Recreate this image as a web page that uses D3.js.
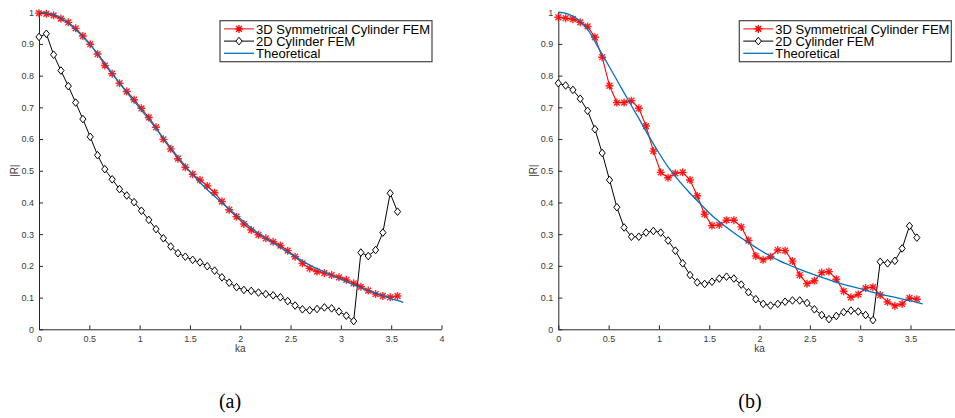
<!DOCTYPE html>
<html><head><meta charset="utf-8">
<script src="https://cdn.jsdelivr.net/npm/d3@7"></script>
<style>
html,body{margin:0;padding:0;background:#fff;}
svg{display:block;font-family:"Liberation Sans",Arial,Helvetica,sans-serif;}
</style></head>
<body>
<svg id="c" width="955" height="418"></svg>
<script>
// ---- data ----
const ka = [0, 0.073, 0.145, 0.218, 0.291, 0.364, 0.436, 0.509, 0.582, 0.654,
  0.727, 0.8, 0.872, 0.945, 1.018, 1.091, 1.163, 1.236, 1.309, 1.381,
  1.454, 1.527, 1.6, 1.672, 1.745, 1.818, 1.89, 1.963, 2.036, 2.109,
  2.181, 2.254, 2.327, 2.399, 2.472, 2.545, 2.618, 2.69, 2.763, 2.836,
  2.908, 2.981, 3.054, 3.127, 3.199, 3.272, 3.345, 3.417, 3.49, 3.563];

const a3D = [0.997, 0.995, 0.99, 0.98, 0.968, 0.949, 0.925, 0.899, 0.868, 0.832,
  0.806, 0.776, 0.750, 0.724, 0.697, 0.668, 0.637, 0.599, 0.569, 0.538,
  0.511, 0.489, 0.471, 0.452, 0.431, 0.403, 0.377, 0.355, 0.332, 0.313,
  0.298, 0.287, 0.276, 0.264, 0.248, 0.229, 0.208, 0.192, 0.182, 0.177,
  0.171, 0.164, 0.156, 0.145, 0.134, 0.122, 0.111, 0.105, 0.101, 0.105];

const a2D = [0.922, 0.932, 0.866, 0.816, 0.767, 0.715, 0.663, 0.607, 0.549, 0.505,
  0.473, 0.442, 0.422, 0.401, 0.374, 0.345, 0.316, 0.287, 0.261, 0.240,
  0.229, 0.219, 0.211, 0.199, 0.185, 0.164, 0.147, 0.133, 0.124, 0.121,
  0.116, 0.111, 0.107, 0.101, 0.089, 0.075, 0.063, 0.060, 0.064, 0.069,
  0.066, 0.056, 0.043, 0.026, 0.242, 0.231, 0.250, 0.305, 0.429, 0.371];

const b3D = [0.984, 0.981, 0.978, 0.968, 0.955, 0.921, 0.858, 0.768, 0.715, 0.715,
  0.721, 0.697, 0.641, 0.562, 0.495, 0.478, 0.492, 0.495, 0.471, 0.421,
  0.363, 0.327, 0.329, 0.344, 0.344, 0.323, 0.280, 0.231, 0.219, 0.229,
  0.250, 0.248, 0.215, 0.171, 0.144, 0.153, 0.179, 0.182, 0.158, 0.120,
  0.101, 0.110, 0.130, 0.133, 0.108, 0.086, 0.074, 0.080, 0.099, 0.095];

const b2D = [0.776, 0.769, 0.755, 0.727, 0.689, 0.631, 0.556, 0.471, 0.385, 0.321,
  0.292, 0.292, 0.305, 0.310, 0.305, 0.280, 0.248, 0.208, 0.171, 0.148,
  0.143, 0.150, 0.160, 0.166, 0.160, 0.141, 0.117, 0.095, 0.080, 0.075,
  0.080, 0.087, 0.091, 0.091, 0.083, 0.063, 0.045, 0.032, 0.042, 0.054,
  0.059, 0.056, 0.045, 0.029, 0.213, 0.208, 0.216, 0.255, 0.326, 0.289];

const thKa = [0, 0.1, 0.2, 0.3, 0.4, 0.5, 0.6, 0.7, 0.8, 0.9,
  1.0, 1.1, 1.2, 1.3, 1.4, 1.5, 1.6, 1.7, 1.8, 1.9,
  2.0, 2.1, 2.2, 2.3, 2.4, 2.5, 2.6, 2.7, 2.8, 2.9,
  3.0, 3.1, 3.2, 3.3, 3.4, 3.5, 3.6, 3.62];

const thA = [1.0, 0.996, 0.985, 0.963, 0.934, 0.9, 0.862, 0.819, 0.776, 0.736,
  0.698, 0.659, 0.618, 0.576, 0.536, 0.498, 0.463, 0.432, 0.404, 0.376,
  0.349, 0.322, 0.298, 0.278, 0.258, 0.238, 0.219, 0.201, 0.186, 0.172,
  0.158, 0.144, 0.131, 0.119, 0.108, 0.097, 0.087, 0.085];

const thB = [1.0, 0.994, 0.976, 0.942, 0.887, 0.832, 0.776, 0.72, 0.665, 0.609,
  0.556, 0.508, 0.468, 0.432, 0.399, 0.367, 0.339, 0.315, 0.292, 0.271,
  0.251, 0.232, 0.216, 0.202, 0.189, 0.177, 0.166, 0.155, 0.145, 0.136,
  0.128, 0.119, 0.111, 0.104, 0.097, 0.090, 0.082, 0.080];

const xTicksA = [0, 0.5, 1, 1.5, 2, 2.5, 3, 3.5, 4];
const xTicksB = [0, 0.5, 1, 1.5, 2, 2.5, 3, 3.5];
const yTicks = [0, 0.1, 0.2, 0.3, 0.4, 0.5, 0.6, 0.7, 0.8, 0.9, 1];
const legendLabels = ["3D Symmetrical Cylinder FEM", "2D Cylinder FEM", "Theoretical"];
const captions = ["(a)", "(b)"];

// ---- drawing ----
const svg = d3.select("#c");
const RED = "#ff0000", BLACK = "#000000", BLUE = "#0072bd", AX = "#262626";
const starPath = "M-4,0H4M0,-4V4M-2.9,-2.9L2.9,2.9M-2.9,2.9L2.9,-2.9";
const diamondPath = "M0,-3.8L3.1,0L0,3.8L-3.1,0Z";

function panel(cfg) {
  const x = d3.scaleLinear().domain([0, 4]).range([cfg.x0, cfg.x0 + 402.5]);
  const y = d3.scaleLinear().domain([0, 1]).range([329.3, 12.2]);
  const g = svg.append("g");

  // axes
  const gx = g.append("g").attr("transform", `translate(0,${y(0)})`)
    .call(d3.axisBottom(x).tickValues(cfg.xTicks).tickSizeInner(-4).tickSizeOuter(0)
      .tickPadding(6).tickFormat(d => String(d)));
  const gy = g.append("g").attr("transform", `translate(${x(0)},0)`)
    .call(d3.axisLeft(y).tickValues(yTicks).tickSizeInner(-4).tickSizeOuter(0)
      .tickPadding(5).tickFormat(d => String(d)));
  [gx, gy].forEach(a => {
    a.select(".domain").attr("stroke", AX).attr("stroke-width", 1);
    a.selectAll(".tick line").attr("stroke", AX);
    a.selectAll(".tick text").attr("fill", "#3a3a3a").style("font-size", "9px")
      .style("font-family", '"Liberation Sans",Arial,sans-serif');
  });

  g.append("text").attr("x", (x(0) + x(4)) / 2).attr("y", 352)
    .attr("text-anchor", "middle").attr("fill", "#3a3a3a").style("font-size", "10px").text("ka");
  g.append("text").attr("transform", `translate(${cfg.x0 - 21},${y(0.5)}) rotate(-90)`)
    .attr("text-anchor", "middle").attr("fill", "#3a3a3a").style("font-size", "10px").text("|R|");

  const line = d3.line().x(d => x(d[0])).y(d => y(d[1]));
  const thData = thKa.map((k, i) => [k, cfg.th[i]]);
  const d3Data = ka.map((k, i) => [k, cfg.s3[i]]);
  const d2Data = ka.map((k, i) => [k, cfg.s2[i]]);

  // 2D FEM
  g.append("path").datum(d2Data).attr("d", line).attr("fill", "none")
    .attr("stroke", BLACK).attr("stroke-width", 1);
  g.selectAll(".dm").data(d2Data).join("path").attr("class", "dm")
    .attr("transform", d => `translate(${x(d[0])},${y(d[1])})`)
    .attr("d", diamondPath).attr("fill", "#fff").attr("stroke", BLACK).attr("stroke-width", 1);

  // 3D FEM
  g.append("path").datum(d3Data).attr("d", line).attr("fill", "none")
    .attr("stroke", RED).attr("stroke-width", 1.1);
  g.selectAll(".st").data(d3Data).join("path").attr("class", "st")
    .attr("transform", d => `translate(${x(d[0])},${y(d[1])})`)
    .attr("d", starPath).attr("fill", "none").attr("stroke", RED).attr("stroke-width", 1.4)
    .attr("stroke-opacity", 0.85);

  // theoretical
  g.append("path").datum(thData).attr("d", line.curve(d3.curveMonotoneX)).attr("fill", "none")
    .attr("stroke", BLUE).attr("stroke-width", 1.3);

  // legend
  const lg = g.append("g").attr("transform", `translate(${cfg.lx},20.7)`);
  lg.append("rect").attr("x", 0).attr("y", 0).attr("width", 212).attr("height", 41)
    .attr("fill", "#fff").attr("stroke", "#444").attr("stroke-width", 1.2);
  const rows = [8.2, 20.4, 32.6];
  const styles = [RED, BLACK, BLUE];
  rows.forEach((ry, i) => {
    lg.append("line").attr("x1", 4).attr("x2", 34).attr("y1", ry).attr("y2", ry)
      .attr("stroke", styles[i]).attr("stroke-width", i === 2 ? 1.3 : 1);
    if (i === 0) lg.append("path").attr("transform", `translate(19,${ry})`).attr("d", starPath)
      .attr("fill", "none").attr("stroke", RED).attr("stroke-width", 1.3);
    if (i === 1) lg.append("path").attr("transform", `translate(19,${ry})`).attr("d", diamondPath)
      .attr("fill", "#fff").attr("stroke", BLACK);
    lg.append("text").attr("x", 36).attr("y", ry).attr("dy", "0.36em")
      .attr("fill", "#000").style("font-size", "13px").text(legendLabels[i]);
  });

  svg.append("text").attr("x", cfg.cx).attr("y", 407.5).attr("text-anchor", "middle")
    .style("font-family", '"Liberation Serif","Times New Roman",serif').style("font-size", "20px")
    .attr("fill", "#000").text(cfg.caption);
}

panel({x0: 39, xTicks: xTicksA, th: thA, s3: a3D, s2: a2D, lx: 220, cx: 230, caption: captions[0]});
panel({x0: 558.3, xTicks: xTicksB, th: thB, s3: b3D, s2: b2D, lx: 739.3, cx: 750, caption: captions[1]});
</script>
</body></html>
